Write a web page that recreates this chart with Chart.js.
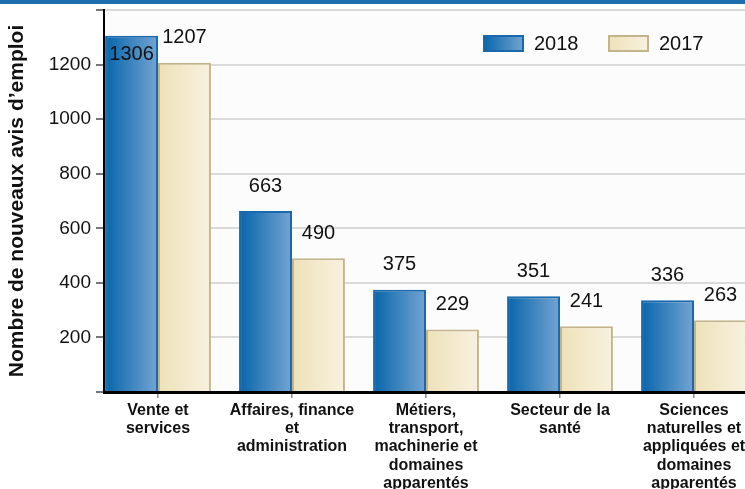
<!DOCTYPE html>
<html>
<head>
<meta charset="utf-8">
<script src="https://cdn.jsdelivr.net/npm/chart.js@4.4.1/dist/chart.umd.min.js"></script>
<style>
  body { margin: 0; background: #fff; }
  #wrap { width: 745px; height: 485px; overflow: hidden; border-top: 4px solid #1c6cb0; }
  canvas { display: block; }
</style>
</head>
<body>
<div id="wrap"><canvas id="jobChart" width="820" height="485"></canvas></div>
<script>
const categories = [
  ["Vente et", "services"],
  ["Affaires, finance", "et", "administration"],
  ["Métiers,", "transport,", "machinerie et", "domaines", "apparentés"],
  ["Secteur de la", "santé"],
  ["Sciences", "naturelles et", "appliquées et", "domaines", "apparentés"]
];
const seriesLabels = ["2018", "2017"];
const values2018 = [1306, 663, 375, 351, 336];
const values2017 = [1207, 490, 229, 241, 263];
const yTickLabels = [200, 400, 600, 800, 1000, 1200];

const CAT_PCT = 0.79;
const FONT = "'Liberation Sans', Arial, sans-serif";

const palette = [
  { from: "#0765ab", to: "#74a4d2", border: "#1a69ac" },
  { from: "#eee1b9", to: "#f8f1df", border: "#c3b58b" }
];

Chart.defaults.font.family = FONT;
Chart.defaults.color = "#111";

function gradientFor(chart, left, right, pal) {
  const g = chart.ctx.createLinearGradient(left, 0, right, 0);
  g.addColorStop(0, pal.from);
  g.addColorStop(1, pal.to);
  return g;
}

function barFill(context) {
  const chart = context.chart;
  const pal = palette[context.datasetIndex];
  const xs = chart.scales.x;
  if (!xs || !chart.chartArea || context.type !== "data") return pal.from;
  const c = xs.getPixelForValue(context.dataIndex);
  const w = (xs.getPixelForValue(1) - xs.getPixelForValue(0)) * CAT_PCT / 2;
  return context.datasetIndex === 0
    ? gradientFor(chart, c - w, c, pal)
    : gradientFor(chart, c, c + w, pal);
}

// fond gris tres clair de la zone de tracé
const plotBg = {
  id: "plotBg",
  beforeDraw(chart) {
    const a = chart.chartArea;
    chart.ctx.save();
    chart.ctx.fillStyle = "#fcfcfc";
    chart.ctx.fillRect(a.left, a.top, a.right - a.left, a.bottom - a.top);
    chart.ctx.restore();
  }
};

// valeurs au-dessus des barres
const valueLabels = {
  id: "valueLabels",
  afterDatasetsDraw(chart) {
    const ctx = chart.ctx;
    ctx.save();
    ctx.font = "20px " + FONT;
    ctx.fillStyle = "#111";
    ctx.textAlign = "center";
    ctx.textBaseline = "middle";
    chart.data.datasets.forEach((ds, di) => {
      chart.getDatasetMeta(di).data.forEach((el, i) => {
        let y = el.y - 25;
        if (y < chart.chartArea.top + 14) y = el.y + 19;
        ctx.fillText(String(ds.data[i].y), el.x, y);
      });
    });
    ctx.restore();
  }
};

// légende dans la zone de tracé
const innerLegend = {
  id: "innerLegend",
  afterDraw(chart) {
    const ctx = chart.ctx;
    const top = chart.chartArea.top + 25;
    const starts = [483, 608];
    ctx.save();
    ctx.font = "20px " + FONT;
    ctx.textBaseline = "middle";
    chart.data.datasets.forEach((ds, di) => {
      const x = starts[di];
      const pal = palette[di];
      ctx.fillStyle = gradientFor(chart, x, x + 41, pal);
      ctx.fillRect(x, top, 41, 17);
      ctx.strokeStyle = pal.border;
      ctx.lineWidth = 2;
      ctx.strokeRect(x + 1, top + 1, 39, 15);
      ctx.fillStyle = "#111";
      ctx.fillText(ds.label, x + 51, top + 9);
    });
    ctx.restore();
  }
};

new Chart(document.getElementById("jobChart"), {
  type: "bar",
  data: {
    datasets: [
      {
        label: seriesLabels[0],
        data: values2018.map((v, i) => ({ x: i, y: v })),
        backgroundColor: barFill,
        borderColor: palette[0].border,
        borderWidth: 2,
        borderSkipped: "bottom"
      },
      {
        label: seriesLabels[1],
        data: values2017.map((v, i) => ({ x: i, y: v })),
        backgroundColor: barFill,
        borderColor: palette[1].border,
        borderWidth: 2,
        borderSkipped: "bottom"
      }
    ]
  },
  options: {
    responsive: false,
    animation: false,
    categoryPercentage: CAT_PCT,
    barPercentage: 1,
    layout: { padding: { top: 6, right: 0, left: 0, bottom: 0 } },
    plugins: {
      legend: { display: false },
      tooltip: { enabled: false }
    },
    scales: {
      x: {
        type: "linear",
        offset: false,
        min: -54 / 134,
        max: 662 / 134,
        afterBuildTicks: (s) => { s.ticks = categories.map((c, i) => ({ value: i })); },
        afterFit: (s) => { s.height = 97; s.paddingLeft = 0; s.paddingRight = 0; },
        ticks: {
          autoSkip: false,
          maxRotation: 0,
          padding: 3,
          font: { size: 16, weight: "bold", lineHeight: 1.15 },
          color: "#111",
          callback: (v) => categories[v]
        },
        grid: {
          offset: false,
          drawOnChartArea: false,
          drawTicks: true,
          tickLength: 6,
          tickColor: "#8a8a8a",
          lineWidth: 1.5
        },
        border: { display: true, color: "#000", width: 3 }
      },
      y: {
        min: 0,
        max: 1400,
        afterFit: (s) => { s.width = 104; s.paddingTop = 0; s.paddingBottom = 0; },
        ticks: {
          stepSize: 200,
          padding: 5,
          font: { size: 19 },
          color: "#111",
          callback: (v) => (yTickLabels.includes(v) ? v : "")
        },
        grid: {
          color: "#dadada",
          lineWidth: 2,
          tickLength: 8,
          tickColor: "#777"
        },
        border: { display: true, color: "#000", width: 2 },
        title: {
          display: true,
          text: "Nombre de nouveaux avis d’emploi",
          font: { size: 21, weight: "bold" },
          color: "#111",
          padding: { top: 5, bottom: 0 }
        }
      }
    }
  },
  plugins: [plotBg, valueLabels, innerLegend]
});
</script>
</body>
</html>
